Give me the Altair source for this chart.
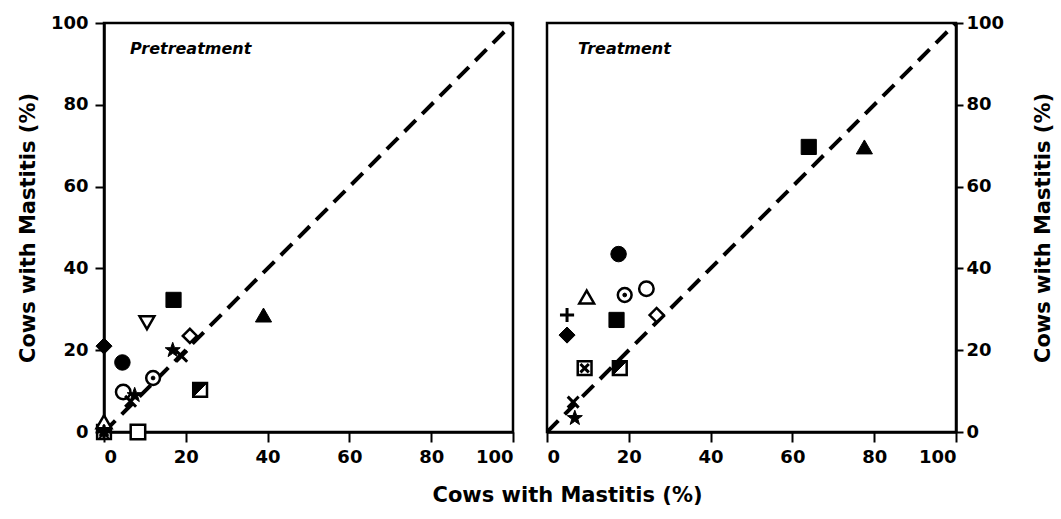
import altair as alt
import pandas as pd

# Pretreatment panel: symbol key, % cows with mastitis (x, y)
pre_symbol = ["diamond_f", "circle_f", "circle_o", "x", "star", "circle_dot", "star", "x",
              "diamond_o", "tri_down_o", "square_f", "tri_f", "half_square", "square_o",
              "boxx", "plus", "tri_o", "star"]
pre_x = [0, 4.5, 4.7, 6.5, 7.5, 12, 16.8, 19, 21, 10.5, 17, 39, 23.5, 8.3, 0, 0, 0, 0]
pre_y = [21, 17, 9.8, 7.5, 9, 13.2, 20, 18.5, 23.5, 26.7, 32.3, 28.6, 10.3, 0, 0, 0, 2.5, 0]

# Treatment panel
trt_symbol = ["square_f", "tri_f", "circle_f", "tri_o", "circle_dot", "circle_o", "plus",
              "diamond_f", "square_f", "diamond_o", "boxx", "half_square", "x", "star"]
trt_x = [64, 77.6, 17.5, 9.7, 19, 24.3, 4.9, 4.9, 17, 26.8, 9.2, 17.8, 6.4, 6.8]
trt_y = [69.7, 69.7, 43.5, 33, 33.5, 35, 28.6, 23.7, 27.4, 28.6, 15.6, 15.6, 7.3, 3.4]

diag_x = [0, 100]
diag_y = [0, 100]
ticks = [0, 20, 40, 60, 80, 100]
axis_title = "Cows with Mastitis (%)"

STAR = ("M0,-1L0.235,-0.324L0.951,-0.309L0.38,0.124L0.588,0.809L0,0.4"
        "L-0.588,0.809L-0.38,0.124L-0.951,-0.309L-0.235,-0.324Z")
XPATH = "M-1,-1L1,1M1,-1L-1,1"
PLUS = "M-1,0L1,0M0,-1L0,1"
HALF = "M-1,-1L1,-1L-1,1Z"

solid = dict(filled=True, fill="black", stroke="black", strokeWidth=1, opacity=1)
hollow = dict(filled=True, fill="white", stroke="black", strokeWidth=2.5, opacity=1)
lines = dict(filled=False, stroke="black", strokeWidth=3, opacity=1)

# marker glyphs, each built from one or more stacked point marks
STYLES = {
    "diamond_f": [dict(shape="diamond", size=260, **solid)],
    "diamond_o": [dict(shape="diamond", size=200, **hollow)],
    "circle_f": [dict(shape="circle", size=240, **solid)],
    "circle_o": [dict(shape="circle", size=210, **hollow)],
    "circle_dot": [dict(shape="circle", size=190, **hollow),
                   dict(shape="circle", size=14, **solid)],
    "square_f": [dict(shape="square", size=230, **solid)],
    "square_o": [dict(shape="square", size=210, **hollow)],
    "half_square": [dict(shape="square", size=190, **hollow),
                    dict(shape=HALF, size=190, **solid)],
    "boxx": [dict(shape="square", size=190, **hollow),
             dict(shape=XPATH, size=70, **lines)],
    "tri_f": [dict(shape="triangle-up", size=260, **solid)],
    "tri_o": [dict(shape="triangle-up", size=220, **hollow)],
    "tri_down_o": [dict(shape="triangle-down", size=220, **hollow)],
    "star": [dict(shape=STAR, size=250, **solid)],
    "x": [dict(shape=XPATH, size=120, **lines)],
    "plus": [dict(shape=PLUS, size=200, **lines)],
}

FONT = "DejaVu Sans"


def panel(symbols, xs, ys, label, label_x, y_orient):
    df = pd.DataFrame({"symbol": symbols, "x": xs, "y": ys})
    xscale = alt.Scale(domain=[0, 100], nice=False)
    yscale = alt.Scale(domain=[0, 100], nice=False)
    xaxis = alt.Axis(values=ticks, title=None, tickSize=10, labelPadding=6)
    if y_orient == "left":
        yaxis = alt.Axis(values=ticks, orient="left", title=axis_title, tickSize=9,
                         labelPadding=7, titlePadding=12)
    else:
        yaxis = alt.Axis(values=ticks, orient="right", title=axis_title, tickSize=7,
                         labelPadding=3, titlePadding=50, titleAngle=270)

    diag = alt.Chart(pd.DataFrame({"x": diag_x, "y": diag_y})).mark_line(
        color="black", strokeWidth=4, strokeDash=[16, 9], clip=True
    ).encode(
        x=alt.X("x:Q", scale=xscale, axis=xaxis),
        y=alt.Y("y:Q", scale=yscale, axis=yaxis),
    )

    layers = [diag]
    for sym, parts in STYLES.items():
        sub = df[df.symbol == sym]
        if sub.empty:
            continue
        for p in parts:
            layers.append(
                alt.Chart(sub).mark_point(**p).encode(
                    x=alt.X("x:Q", scale=xscale),
                    y=alt.Y("y:Q", scale=yscale),
                )
            )

    text = alt.Chart(pd.DataFrame({"t": [label]})).mark_text(
        align="left", baseline="middle", font=FONT, fontSize=16,
        fontStyle="italic", fontWeight="bold", color="black"
    ).encode(x=alt.value(label_x), y=alt.value(26), text="t:N")
    layers.append(text)

    return alt.layer(*layers).properties(width=409, height=409)


left = panel(pre_symbol, pre_x, pre_y, "Pretreatment", 26, "left")
right = panel(trt_symbol, trt_x, trt_y, "Treatment", 31, "right")

chart = alt.hconcat(left, right, spacing=34, bounds="flush").properties(
    title=alt.TitleParams(axis_title, orient="bottom", anchor="middle", font=FONT,
                          fontSize=21, fontWeight="bold", color="black", offset=18,
                          dx=32),
    padding={"left": 16, "top": 12, "right": 5, "bottom": 5},
).configure_view(
    stroke="black", strokeWidth=2.5
).configure_axis(
    grid=False, domainColor="black", domainWidth=2.5, tickColor="black", tickWidth=2,
    labelFont=FONT, labelFontSize=18, labelFontWeight="bold", labelColor="black",
    titleFont=FONT, titleFontSize=21, titleFontWeight="bold", titleColor="black",
)

chart.save("out.html", embed_options={"renderer": "svg", "actions": False})
